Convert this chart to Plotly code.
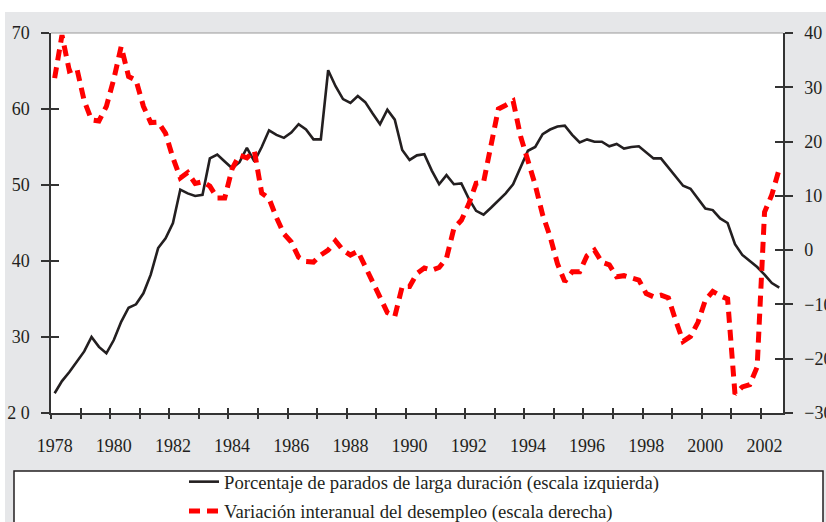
import pandas as pd
import plotly.graph_objects as go

# quarterly series, 1978Q1 .. 2002Q3
quarters = pd.period_range("1978Q1", periods=99, freq="Q")

parados_larga = [
    22.6, 24.2, 25.4, 26.75, 28.1, 30.0, 28.7, 27.85, 29.6, 32.0,
    33.85, 34.3, 35.75, 38.2, 41.7, 43.0, 45.0, 49.4, 48.9, 48.55,
    48.7, 53.5, 54.0, 53.1, 52.2, 53.0, 54.9, 53.1, 55.0, 57.2,
    56.6, 56.2, 56.9, 58.0, 57.3, 56.0, 56.0, 65.1, 63.0, 61.3,
    60.8, 61.7, 60.9, 59.4, 58.0, 59.9, 58.6, 54.6, 53.3, 53.9,
    54.05, 51.9, 50.1, 51.3, 50.1, 50.2, 48.2, 46.6, 46.1, 47.0,
    48.0, 48.9, 50.1, 52.3, 54.5, 55.0, 56.7, 57.3, 57.7, 57.8,
    56.6, 55.6, 56.0, 55.7, 55.7, 55.1, 55.4, 54.8, 55.0, 55.1,
    54.3, 53.5, 53.5, 52.3, 51.2, 49.9, 49.5, 48.2, 46.9, 46.7,
    45.6, 45.0, 42.2, 40.8, 40.0, 39.2, 38.2, 37.1, 36.5,
]

variacion_desempleo = [
    31.7, 39.6, 33.0, 33.5, 27.5, 24.0, 23.8, 26.5, 31.5, 37.5,
    32.0, 31.3, 26.5, 23.5, 23.6, 21.5, 17.0, 13.3, 14.3, 12.3,
    12.6, 11.8, 9.6, 9.6, 15.0, 17.5, 17.0, 18.3, 10.5, 9.5,
    6.0, 3.0, 1.5, -1.3, -2.1, -2.2, -0.9, 0.0, 1.7, 0.0,
    -0.9, -0.2, -3.0, -5.8, -8.5, -11.5, -12.2, -6.7, -6.7, -4.3,
    -3.3, -3.7, -3.2, -1.5, 4.0, 5.5, 8.5, 12.3, 12.5, 19.0,
    26.0, 26.7, 27.5, 21.0, 16.5, 12.0, 6.5, 2.5, -2.5, -5.8,
    -4.0, -4.0, -1.0, 0.0, -2.2, -2.7, -4.9, -4.7, -5.1, -5.5,
    -8.0, -8.6, -8.3, -8.8, -13.0, -16.8, -15.9, -13.3, -9.2, -7.6,
    -8.4, -9.0, -26.5, -25.2, -24.8, -21.5, 7.0, 10.2, 15.0,
]

year_labels = [str(y) for y in range(1978, 2003, 2)]
left_ticks = [20, 30, 40, 50, 60, 70]
left_text = ["2 0", "30", "40", "50", "60", "70"]
right_ticks = [-30, -20, -10, 0, 10, 20, 30, 40]

name_black = "Porcentaje de parados de larga duración (escala izquierda)"
name_red = "Variación interanual del desempleo (escala derecha)"

# mid-quarter dates
x = [p.start_time + (p.end_time - p.start_time) / 2 for p in quarters]

W, H = 826, 522
L, R, T, B = 51, 43, 33, 109
pw, ph = W - L - R, H - T - B


def px(v):
    return (v - L) / pw


def py(v):
    return (H - B - v) / ph


FONT = "Times New Roman, Liberation Serif, DejaVu Serif, serif"
INK = "#231f20"
AX = "#333333"
xr = ["1978-01-01", "2002-10-01"]
year_marks = [f"{y}-01-01" for y in range(1978, 2003)]

fig = go.Figure()
fig.add_trace(go.Scatter(x=x, y=parados_larga, mode="lines", name=name_black,
                         legendgroup="a", line=dict(color=INK, width=2.6)))
fig.add_trace(go.Scatter(x=x, y=variacion_desempleo, mode="lines", name=name_red,
                         legendgroup="b", yaxis="y2",
                         line=dict(color="#ff0000", width=5, dash="11px,7px")))
# empty traces so the tick-only overlay axes are drawn
for xa, ya in [("x2", "y"), ("x3", "y"), ("x", "y3"), ("x", "y4")]:
    fig.add_trace(go.Scatter(x=[], y=[], xaxis=xa, yaxis=ya, showlegend=False,
                             hoverinfo="skip"))

tickfont = dict(family=FONT, size=18, color=INK)
fig.update_layout(
    width=W, height=H,
    margin=dict(l=L, r=R, t=T, b=B, autoexpand=False),
    paper_bgcolor="#e6e7e9",
    plot_bgcolor="white",
    showlegend=True,
    legend=dict(x=px(184), y=py(463), xanchor="left", yanchor="top",
                font=dict(family=FONT, size=18.7, color=INK),
                bgcolor="rgba(0,0,0,0)", borderwidth=0,
                traceorder="grouped", tracegroupgap=2),
    xaxis=dict(type="date", range=xr, showgrid=False, zeroline=False,
               showline=True, linecolor=AX, linewidth=1.5, ticks="",
               tickvals=[f"{y}-02-15" for y in year_labels], ticktext=year_labels,
               tickfont=tickfont, ticklabelstandoff=16, automargin=False),
    xaxis2=dict(type="date", range=xr, overlaying="x", anchor="y",
                showgrid=False, zeroline=False, showticklabels=False,
                tickvals=year_marks, ticks="outside", ticklen=5,
                tickwidth=1.5, tickcolor=AX),
    xaxis3=dict(type="date", range=xr, overlaying="x", anchor="y",
                showgrid=False, zeroline=False, showticklabels=False,
                tickvals=year_marks, ticks="inside", ticklen=5,
                tickwidth=1.5, tickcolor=AX),
    yaxis=dict(range=[20, 70], tickvals=left_ticks, ticktext=left_text,
               showgrid=False, zeroline=False, showline=True, linecolor=AX,
               linewidth=1.5, ticks="outside", ticklen=8, tickwidth=1.5,
               tickcolor=AX, tickfont=tickfont, ticklabelstandoff=8,
               automargin=False),
    yaxis3=dict(range=[20, 70], tickvals=left_ticks, overlaying="y",
                anchor="x", showgrid=False, zeroline=False,
                showticklabels=False, ticks="inside", ticklen=8,
                tickwidth=1.5, tickcolor=AX),
    yaxis2=dict(range=[-30, 40], tickvals=right_ticks, overlaying="y",
                side="right", anchor="x", showgrid=False, zeroline=False,
                showline=True, linecolor=AX, linewidth=1.5, ticks="outside",
                ticklen=8, tickwidth=1.5, tickcolor=AX, tickfont=tickfont,
                ticklabelstandoff=8, automargin=False),
    yaxis4=dict(range=[-30, 40], tickvals=right_ticks, overlaying="y",
                side="right", anchor="x", showgrid=False, zeroline=False,
                showticklabels=False, ticks="inside", ticklen=8,
                tickwidth=1.5, tickcolor=AX),
    shapes=[
        # white strips around the grey panel
        dict(type="rect", xref="paper", yref="paper", x0=px(0), x1=px(W),
             y0=py(12), y1=py(0), fillcolor="white", line_width=0, layer="below"),
        dict(type="rect", xref="paper", yref="paper", x0=px(0), x1=px(5),
             y0=py(H), y1=py(0), fillcolor="white", line_width=0, layer="below"),
        # top frame
        dict(type="line", xref="paper", yref="paper", x0=0, x1=1, y0=1, y1=1,
             line=dict(color="#9a9a9a", width=1.2)),
        # legend box
        dict(type="rect", xref="paper", yref="paper", x0=px(14), x1=px(823),
             y0=py(H + 10), y1=py(471), fillcolor="white",
             line=dict(color=INK, width=1.5), layer="below"),
    ],
)

fig.write_html("out.html", config={"displayModeBar": False},
               post_script="document.body.style.margin='0';")
